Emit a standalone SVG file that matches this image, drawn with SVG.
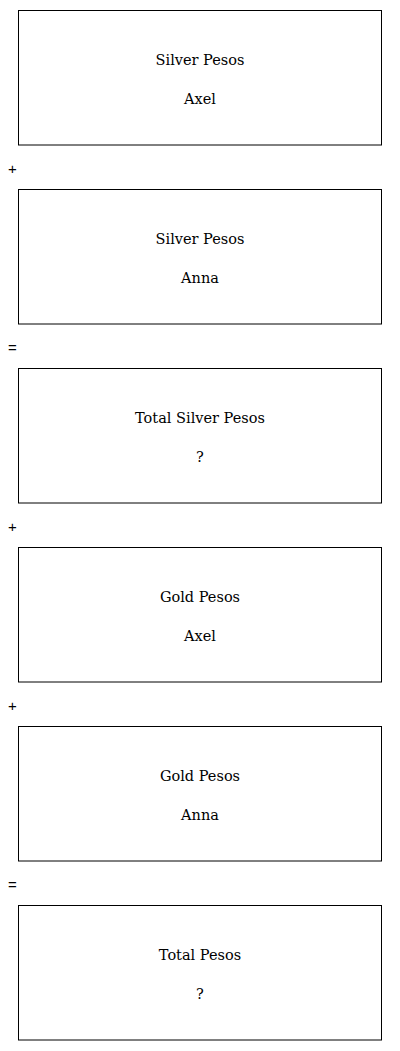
<svg xmlns="http://www.w3.org/2000/svg" width="400" height="1051" viewBox="0 0 400 1051">
<style>
.box{fill:#fff;stroke:#000;stroke-width:1}
.lbl{font-family:"DejaVu Serif","Liberation Serif",serif;font-size:14.5px;text-anchor:middle;fill:#000}
.op{font-family:"Liberation Sans",Arial,sans-serif;font-size:15px;fill:#000}
</style>
<rect width="400" height="1051" fill="#fff"/>
<g id="n1"><rect class="box" x="18.5" y="10.5" width="363" height="134.5"/><text class="lbl" x="200" y="65">Silver Pesos</text><text class="lbl" x="200" y="104">Axel</text></g>
<g id="op1"><text class="op" x="8" y="174">+</text></g>
<g id="n2"><rect class="box" x="18.5" y="189.5" width="363" height="134.5"/><text class="lbl" x="200" y="244">Silver Pesos</text><text class="lbl" x="200" y="283">Anna</text></g>
<g id="op2"><text class="op" x="8" y="353">=</text></g>
<g id="n3"><rect class="box" x="18.5" y="368.5" width="363" height="134.5"/><text class="lbl" x="200" y="423">Total Silver Pesos</text><text class="lbl" x="200" y="462">?</text></g>
<g id="op3"><text class="op" x="8" y="532">+</text></g>
<g id="n4"><rect class="box" x="18.5" y="547.5" width="363" height="134.5"/><text class="lbl" x="200" y="602">Gold Pesos</text><text class="lbl" x="200" y="641">Axel</text></g>
<g id="op4"><text class="op" x="8" y="711">+</text></g>
<g id="n5"><rect class="box" x="18.5" y="726.5" width="363" height="134.5"/><text class="lbl" x="200" y="781">Gold Pesos</text><text class="lbl" x="200" y="820">Anna</text></g>
<g id="op5"><text class="op" x="8" y="890">=</text></g>
<g id="n6"><rect class="box" x="18.5" y="905.5" width="363" height="134.5"/><text class="lbl" x="200" y="960">Total Pesos</text><text class="lbl" x="200" y="999">?</text></g>
<g id="connectors"></g>
</svg>
